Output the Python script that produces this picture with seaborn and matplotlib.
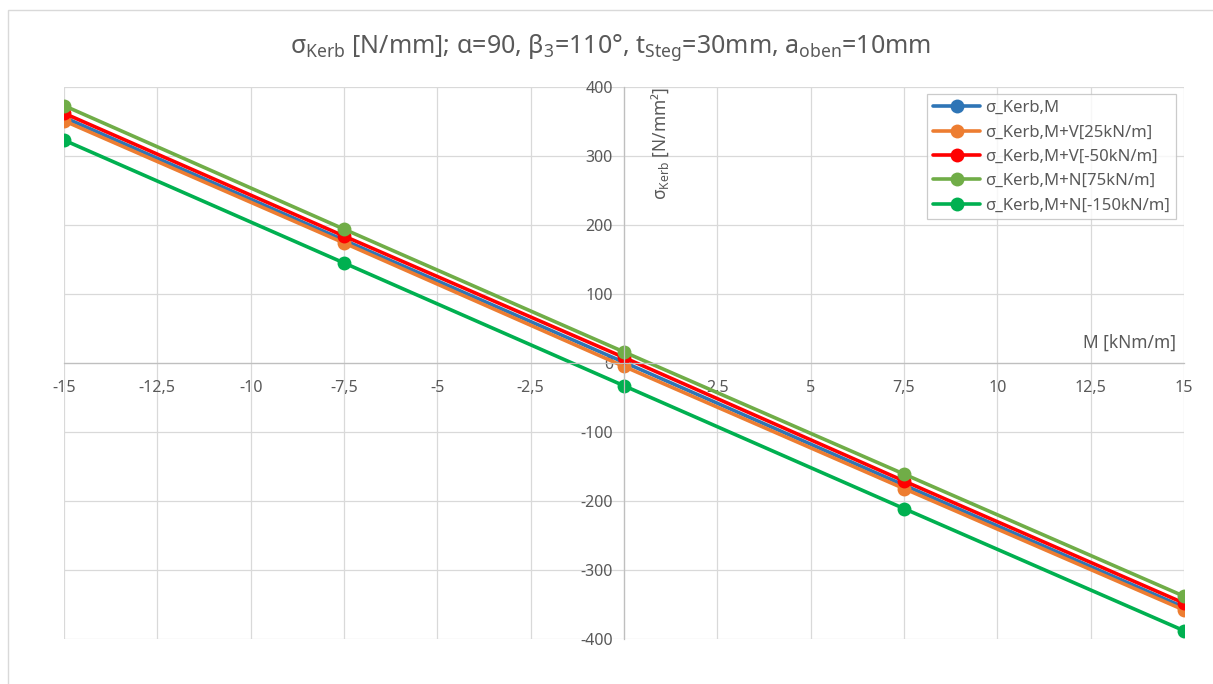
import numpy as np
import pandas as pd
import matplotlib.pyplot as plt
import matplotlib.ticker as mticker
from matplotlib.patches import Rectangle
import seaborn as sns

# -------------------------------
# Data
# -------------------------------
moment = [-15, -7.5, 0, 7.5, 15]
series_names = [
    "σ_Kerb,M",
    "σ_Kerb,M+V[25kN/m]",
    "σ_Kerb,M+V[-50kN/m]",
    "σ_Kerb,M+N[75kN/m]",
    "σ_Kerb,M+N[-150kN/m]",
]
sigma_m = [356, 178, 1, -177, -354]
sigma_v25 = [351, 174, -5, -182, -358]
sigma_v50 = [362, 184, 8, -171, -348]
sigma_n75 = [373, 194, 16, -161, -338]
sigma_n150 = [323, 145, -33, -211, -388]
colors = ["#2E75B6", "#ED7D31", "#FF0000", "#70AD47", "#00B050"]

x_ticks = np.arange(-15, 15.1, 2.5)
y_ticks = np.arange(-400, 401, 100)

# long-form table for seaborn
frames = []
for name, vals in zip(series_names, [sigma_m, sigma_v25, sigma_v50, sigma_n75, sigma_n150]):
    frames.append(pd.DataFrame({"M": moment, "sigma": vals, "Serie": name}))
df = pd.concat(frames, ignore_index=True)

# -------------------------------
# Style
# -------------------------------
sns.set_style("white")
plt.rcParams["font.family"] = ["Noto Sans", "DejaVu Sans"]
plt.rcParams["mathtext.fontset"] = "custom"
plt.rcParams["mathtext.rm"] = "Noto Sans"
plt.rcParams["mathtext.it"] = "Noto Sans"
txt_col = "#595959"

fig = plt.figure(figsize=(12.13, 6.84), dpi=100)
ax = fig.add_axes([64 / 1213, 1 - 639 / 684, 1120 / 1213, 552 / 684])

sns.lineplot(data=df, x="M", y="sigma", hue="Serie", hue_order=series_names,
             palette=colors, marker="o", markersize=10, markeredgewidth=0,
             linewidth=2.6, ax=ax, legend=True)

ax.set_xlim(-15, 15)
ax.set_ylim(-400, 400)
ax.set_xticks(x_ticks)
ax.set_yticks(y_ticks)
fmt = mticker.FuncFormatter(lambda v, p: f"{v:g}".replace(".", ","))
ax.xaxis.set_major_formatter(fmt)
ax.yaxis.set_major_formatter(fmt)
ax.grid(True, color="#d9d9d9", linewidth=0.9)
ax.set_axisbelow(True)

# axes cross at the origin
ax.spines["left"].set_position(("data", 0))
ax.spines["bottom"].set_position(("data", 0))
ax.spines["top"].set_visible(False)
ax.spines["right"].set_visible(False)
for s in ["left", "bottom"]:
    ax.spines[s].set_color("#bfbfbf")
    ax.spines[s].set_linewidth(0.9)
ax.tick_params(axis="both", length=0, labelsize=11.5, colors=txt_col)
ax.tick_params(axis="x", pad=12)
ax.tick_params(axis="y", pad=8)
ax.set_xlabel("")
ax.set_ylabel("")

# axis titles placed like the Excel chart
ax.text(0.532, 1.0, r"$\mathregular{\sigma_{Kerb}}$ [N/mm²]", rotation=90,
        ha="center", va="top", transform=ax.transAxes, fontsize=12.5, color=txt_col)
ax.text(0.993, 0.536, "M [kNm/m]", ha="right", va="center",
        transform=ax.transAxes, fontsize=12.5, color=txt_col)

fig.text(0.503, 0.931,
         r"$\mathregular{\sigma_{Kerb}}$ [N/mm]; α=90, $\mathregular{\beta_{3}}$=110°, "
         r"$\mathregular{t_{Steg}}$=30mm, $\mathregular{a_{oben}}$=10mm",
         ha="center", va="center", fontsize=18, color=txt_col)

leg = ax.legend(loc="upper right", bbox_to_anchor=(1.0, 1.002), fontsize=12,
                frameon=True, fancybox=False, edgecolor="#bfbfbf",
                handlelength=2.8, borderpad=0.35, labelspacing=0.5,
                handletextpad=0.3)
leg.get_frame().set_linewidth(0.9)
for t in leg.get_texts():
    t.set_color(txt_col)

# chart area border
fig.patches.append(Rectangle((8 / 1213, -0.02), 1.1, 1 - 10 / 684 + 0.02,
                             transform=fig.transFigure, fill=False,
                             edgecolor="#d9d9d9", linewidth=1))

fig.savefig("out.png", dpi=100)
